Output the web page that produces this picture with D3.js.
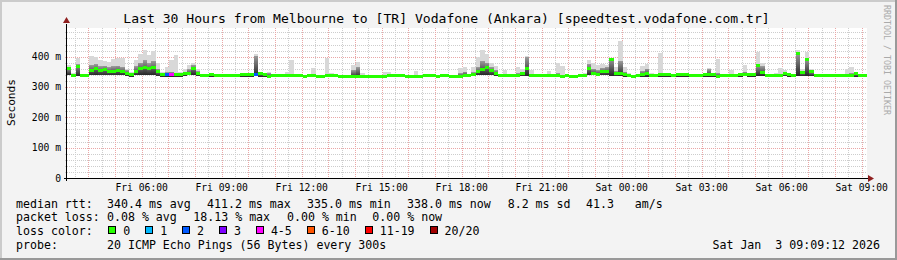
<!DOCTYPE html>
<html>
<head>
<meta charset="utf-8">
<script src="https://cdn.jsdelivr.net/npm/d3@7"></script>
<style>
  html, body { margin: 0; padding: 0; background: #f3f3f3; }
  svg { display: block; font-family: "DejaVu Sans Mono", monospace; }
  text { white-space: pre; }
</style>
</head>
<body>
<svg id="chart" width="897" height="260"></svg>
<script>
// 10 minute slots, Fri 03:12 -> Sat 09:12, one row per hour (ms)
const medianMs = [
  360, 337, 368, 337, 337, 355,
  360, 353, 358, 352, 352, 355,
  351, 345, 340, 352, 360, 364,
  362, 365, 350, 340, 340, 340,
  340, 342, 343, 346, 360, 345,
  337, 337, 340, 337, 337, 337,
  337, 337, 337, 340, 340, 340,
  342, 343, 340, 335, 337, 337,
  337, 337, 337, 337, 337, 335,
  337, 337, 335, 336, 337, 337,
  337, 335, 335, 335, 335, 335,
  335, 335, 335, 335, 335, 335,
  337, 337, 337, 337, 335, 335,
  335, 335, 337, 337, 337, 335,
  337, 337, 335, 335, 335, 337,
  337, 340, 350, 358, 363, 356,
  345, 337, 338, 338, 338, 337,
  345, 362, 337, 337, 337, 337,
  337, 337, 337, 335, 337, 335,
  335, 337, 337, 362, 345, 342,
  350, 352, 392, 345, 343, 340,
  337, 335, 337, 340, 343, 337,
  337, 340, 340, 340, 337, 340,
  342, 342, 337, 337, 337, 342,
  342, 342, 335, 337, 337, 337,
  337, 342, 342, 342, 342, 370,
  348, 337, 337, 337, 337, 345,
  342, 337, 411, 348, 392, 350,
  337, 337, 337, 337, 337, 337,
  337, 337, 337, 345, 337, 337
]
// smoke: lowest ping, top of the dense part, highest ping
const smokeLoMs = [
  340, 334, 336, 334, 334, 338,
  340, 338, 338, 338, 338, 338,
  338, 336, 334, 338, 340, 340,
  340, 340, 336, 334, 334, 334,
  334, 334, 336, 338, 340, 336,
  334, 334, 334, 334, 334, 334,
  334, 334, 334, 334, 334, 334,
  336, 334, 334, 332, 334, 334,
  334, 334, 334, 334, 334, 332,
  334, 334, 332, 333, 334, 334,
  334, 332, 332, 332, 332, 332,
  332, 332, 332, 332, 332, 332,
  334, 334, 334, 334, 332, 332,
  332, 332, 334, 334, 334, 332,
  334, 334, 332, 332, 332, 334,
  334, 336, 338, 340, 340, 338,
  336, 334, 334, 334, 334, 334,
  336, 337, 334, 334, 334, 334,
  334, 334, 334, 332, 334, 332,
  332, 334, 334, 338, 338, 336,
  338, 338, 337, 336, 336, 334,
  334, 332, 334, 334, 334, 334,
  334, 334, 334, 334, 334, 334,
  334, 334, 334, 334, 334, 334,
  334, 334, 332, 334, 334, 334,
  334, 334, 336, 334, 334, 337,
  337, 334, 334, 334, 334, 336,
  334, 334, 337, 337, 337, 337,
  334, 334, 334, 334, 334, 334,
  334, 334, 334, 334, 334, 334
]
const smokeMidMs = [
  362, 340, 375, 338, 338, 372,
  375, 368, 370, 365, 368, 370,
  365, 355, 345, 368, 380, 388,
  378, 385, 360, 345, 348, 350,
  345, 345, 350, 358, 372, 352,
  338, 338, 341, 338, 338, 338,
  338, 338, 338, 341, 341, 341,
  403, 346, 342, 345, 338, 338,
  338, 340, 342, 338, 338, 336,
  338, 340, 336, 337, 340, 338,
  338, 336, 336, 336, 355, 365,
  337, 336, 336, 336, 336, 338,
  338, 338, 338, 338, 336, 336,
  340, 336, 338, 338, 338, 336,
  338, 338, 336, 336, 345, 350,
  338, 348, 365, 385, 380, 365,
  355, 338, 340, 339, 339, 345,
  350, 398, 340, 338, 338, 338,
  340, 338, 345, 340, 338, 336,
  336, 338, 340, 375, 360, 355,
  362, 365, 393, 352, 385, 350,
  338, 336, 338, 352, 360, 340,
  338, 345, 341, 341, 338, 341,
  343, 343, 338, 338, 338, 343,
  358, 343, 345, 338, 338, 340,
  338, 344, 350, 343, 343, 372,
  368, 338, 338, 338, 340, 348,
  343, 338, 411, 350, 392, 352,
  338, 338, 338, 338, 338, 338,
  338, 340, 345, 346, 338, 338
]
const smokeHiMs = [
  372, 345, 395, 340, 342, 402,
  400, 388, 385, 382, 392, 395,
  395, 360, 348, 390, 410, 422,
  405, 418, 380, 350, 365, 388,
  405, 350, 360, 372, 380, 360,
  340, 340, 342, 340, 340, 340,
  340, 340, 340, 343, 343, 343,
  410, 350, 345, 350, 340, 340,
  340, 350, 389, 340, 340, 338,
  340, 364, 338, 339, 397, 345,
  340, 338, 338, 338, 372, 382,
  345, 338, 338, 338, 338, 350,
  350, 340, 340, 340, 338, 338,
  352, 338, 340, 340, 340, 338,
  340, 340, 338, 338, 362, 367,
  340, 365, 400, 422, 410, 380,
  370, 340, 356, 341, 341, 367,
  360, 403, 356, 340, 340, 340,
  353, 340, 378, 370, 340, 338,
  338, 340, 345, 389, 378, 372,
  375, 372, 395, 365, 450, 365,
  345, 338, 340, 368, 375, 345,
  340, 411, 345, 343, 340, 343,
  345, 345, 340, 340, 340, 345,
  362, 345, 392, 340, 340, 356,
  340, 345, 372, 345, 345, 416,
  380, 340, 340, 345, 362, 355,
  345, 340, 422, 360, 416, 360,
  340, 340, 340, 340, 340, 340,
  340, 360, 367, 350, 340, 340
]
// lost pings out of 20 per slot
const lossPings = [
  0, 0, 0, 0, 0, 0,
  0, 0, 0, 0, 0, 0,
  0, 0, 0, 0, 0, 0,
  0, 0, 0, 0, 2, 4,
  0, 0, 0, 0, 0, 0,
  0, 0, 0, 0, 0, 0,
  0, 0, 0, 0, 0, 0,
  2, 0, 0, 0, 0, 0,
  0, 0, 0, 0, 0, 0,
  0, 0, 0, 0, 0, 0,
  0, 0, 0, 0, 0, 0,
  0, 0, 0, 0, 0, 0,
  0, 0, 0, 0, 0, 0,
  0, 0, 0, 0, 0, 0,
  0, 0, 0, 0, 0, 0,
  0, 0, 0, 0, 0, 0,
  0, 0, 0, 0, 0, 0,
  0, 0, 0, 0, 0, 0,
  0, 0, 0, 0, 0, 0,
  0, 0, 0, 0, 0, 0,
  0, 0, 0, 0, 0, 0,
  0, 0, 0, 0, 0, 0,
  0, 0, 0, 0, 0, 0,
  0, 0, 0, 0, 0, 0,
  0, 0, 0, 0, 0, 0,
  0, 0, 0, 0, 0, 0,
  0, 0, 0, 0, 0, 0,
  0, 0, 0, 0, 0, 0,
  0, 0, 0, 0, 0, 0,
  0, 0, 0, 0, 0, 0
]

const yTicks = [0, 0.1, 0.2, 0.3, 0.4]
const yTickLabels = ['0', '100 m', '200 m', '300 m', '400 m']

const lossLabels = ['0', '1', '2', '3', '4-5', '6-10', '11-19', '20/20']
const lossUpTo = [0, 1, 2, 3, 5, 10, 19, 20]
const lossColors = ['#26ff00', '#00b8ff', '#0059ff', '#7e00ff', '#ff00ff', '#ff5500', '#ff0000', '#a10000']

const rttRow = [['median rtt:', 16], ['340.4 ms avg', 107], ['411.2 ms max', 207], ['335.0 ms min', 307],
  ['338.0 ms now', 407], ['8.2 ms sd', 507.7], ['41.3   am/s', 586]]
const lossRow = [['packet loss:', 16], ['0.08 % avg', 107], ['18.13 % max', 193.3], ['0.00 % min', 287], ['0.00 % now', 372.3]]
const probeRow = [['probe:', 16], ['20 ICMP Echo Pings (56 Bytes) every 300s', 107]]

const title = 'Last 30 Hours from Melbourne to [TR] Vodafone (Ankara) [speedtest.vodafone.com.tr]'
const stamp = 'Sat Jan  3 09:09:12 2026'

const W = 897
const H = 260
const plotL = 67
const plotR = 867
const plotT = 28
const plotB = 178
const stepMinutes = 10

const svg = d3.select('#chart')
const t0 = new Date(2026, 0, 2, 3, 12)
const t1 = d3.timeHour.offset(t0, 30)
const x = d3.scaleTime().domain([t0, t1]).range([plotL, plotR])
const y = d3.scaleLinear().domain([0, 0.4945]).range([plotB, plotT])
const crisp = v => Math.round(v) + 0.5

// smoke gets darker towards the median
const grad = svg.append('defs').append('linearGradient')
  .attr('id', 'smoke').attr('x1', 0).attr('x2', 0).attr('y1', 0).attr('y2', 1)
grad.append('stop').attr('offset', '0%').attr('stop-color', '#9a9a9a')
grad.append('stop').attr('offset', '100%').attr('stop-color', '#262626')

// background and shaded frame
svg.append('rect').attr('width', W).attr('height', H).attr('fill', '#f3f3f3')
svg.append('path').attr('d', `M0,0H${W}V2H2V${H}H0Z`).attr('fill', '#cbcbcb')
svg.append('path').attr('d', `M${W},${H}H0V${H - 2}H${W - 2}V0H${W}Z`).attr('fill', '#999999')
svg.append('rect').attr('x', plotL).attr('y', plotT).attr('width', plotR - plotL).attr('height', plotB - plotT).attr('fill', '#ffffff')

// grid
const grid = svg.append('g').attr('shape-rendering', 'crispEdges').attr('stroke-dasharray', '1,1')
const majorY = y.ticks(5)
const minorY = y.ticks(25).filter(v => Math.round(v * 100) % 10 !== 0)
grid.selectAll('line.ymin').data(minorY).enter().append('line')
  .attr('x1', plotL - 2).attr('x2', plotR)
  .attr('y1', d => crisp(y(d))).attr('y2', d => crisp(y(d)))
  .attr('stroke', '#cdcdcd')
const majorX = x.ticks(d3.timeHour.every(1))
const minorX = x.ticks(d3.timeMinute.every(30)).filter(d => d.getMinutes() !== 0)
grid.selectAll('line.xmin').data(minorX).enter().append('line')
  .attr('x1', d => crisp(x(d))).attr('x2', d => crisp(x(d)))
  .attr('y1', plotT).attr('y2', plotB + 2)
  .attr('stroke', '#cdcdcd')
grid.selectAll('line.ymaj').data(majorY.filter(v => v > 0)).enter().append('line')
  .attr('x1', plotL - 2).attr('x2', plotR)
  .attr('y1', d => crisp(y(d))).attr('y2', d => crisp(y(d)))
  .attr('stroke', '#eaa6a6')
grid.selectAll('line.xmaj').data(majorX).enter().append('line')
  .attr('x1', d => crisp(x(d))).attr('x2', d => crisp(x(d)))
  .attr('y1', plotT).attr('y2', plotB + 2)
  .attr('stroke', '#eaa6a6')

// smoke and median
const slots = medianMs.map((m, i) => ({
  t0: d3.timeMinute.offset(t0, i * stepMinutes),
  t1: d3.timeMinute.offset(t0, (i + 1) * stepMinutes),
  med: m / 1000,
  lo: smokeLoMs[i] / 1000,
  mid: smokeMidMs[i] / 1000,
  hi: smokeHiMs[i] / 1000,
  loss: lossPings[i]
}))
const plot = svg.append('g').attr('shape-rendering', 'crispEdges')
const slotX = d => Math.round(x(d.t0))
const slotW = d => Math.round(x(d.t1)) - Math.round(x(d.t0))
plot.selectAll('rect.smokehi').data(slots).enter().append('rect')
  .attr('x', slotX).attr('width', slotW)
  .attr('y', d => y(d.hi)).attr('height', d => y(d.lo) - y(d.hi))
  .attr('fill', '#d8d8d8')
plot.selectAll('rect.smokemid').data(slots).enter().append('rect')
  .attr('x', slotX).attr('width', slotW)
  .attr('y', d => y(d.mid)).attr('height', d => y(d.lo) - y(d.mid))
  .attr('fill', 'url(#smoke)')
const lossColor = n => lossColors[lossUpTo.findIndex(u => n <= u)]
plot.selectAll('rect.median').data(slots).enter().append('rect')
  .attr('x', slotX).attr('width', slotW)
  .attr('y', d => y(d.med) - 1.5).attr('height', 3)
  .attr('fill', d => lossColor(d.loss))

// axes with arrows
const axis = svg.append('g').attr('shape-rendering', 'crispEdges')
axis.append('line').attr('x1', plotL - 3).attr('x2', plotR + 3).attr('y1', plotB + 0.5).attr('y2', plotB + 0.5).attr('stroke', '#000')
axis.append('line').attr('x1', plotL - 0.5).attr('x2', plotL - 0.5).attr('y1', plotB + 3).attr('y2', plotT - 4).attr('stroke', '#000')
svg.append('path').attr('d', `M${plotR + 1},${plotB - 3}L${plotR + 7},${plotB + 0.5}L${plotR + 1},${plotB + 4}Z`).attr('fill', '#8f1f1f')
svg.append('path').attr('d', `M${plotL - 4},${plotT - 5}L${plotL - 0.5},${plotT - 11}L${plotL + 3},${plotT - 5}Z`).attr('fill', '#8f1f1f')

// tick labels
svg.selectAll('text.ylab').data(yTicks).enter().append('text')
  .attr('x', 61).attr('y', d => y(d) + 3.5)
  .attr('text-anchor', 'end').attr('font-size', '9.7px')
  .text((d, i) => yTickLabels[i])
const fmt = d3.timeFormat('%a %H:%M')
svg.selectAll('text.xlab').data(x.ticks(d3.timeHour.every(3))).enter().append('text')
  .attr('x', d => x(d)).attr('y', 190.5)
  .attr('text-anchor', 'middle').attr('font-size', '9.7px')
  .text(fmt)

svg.append('text').attr('transform', 'translate(14.5,102.5) rotate(-90)')
  .attr('text-anchor', 'middle').attr('font-size', '11.2px').text('Seconds')
svg.append('text').attr('x', 446.5).attr('y', 23)
  .attr('text-anchor', 'middle').attr('font-size', '13.1px').text(title)
svg.append('text').attr('transform', 'translate(883.5,5) rotate(90)')
  .attr('font-size', '8.3px').attr('fill', '#aaaaaa').text('RRDTOOL / TOBI OETIKER')

// legend
const legend = svg.append('g').attr('font-size', '11.6px')
const textRow = (row, base) => row.forEach(([s, px]) => {
  legend.append('text').attr('x', px).attr('y', base).text(s)
})
textRow(rttRow, 207.5)
textRow(lossRow, 221.3)
textRow(probeRow, 249)
legend.append('text').attr('x', 16).attr('y', 235.2).text('loss color:')
let bx = 108.3
lossLabels.forEach((lab, i) => {
  legend.append('rect').attr('x', Math.round(bx) + 0.5).attr('y', 226.5).attr('width', 7).attr('height', 7)
    .attr('fill', lossColors[i]).attr('stroke', '#000')
  legend.append('text').attr('x', bx + 15).attr('y', 235.2).text(lab)
  bx += 29.9 + 7 * lab.length
})
legend.append('text').attr('x', 880).attr('y', 249).attr('text-anchor', 'end').text(stamp)
</script>
</body>
</html>
